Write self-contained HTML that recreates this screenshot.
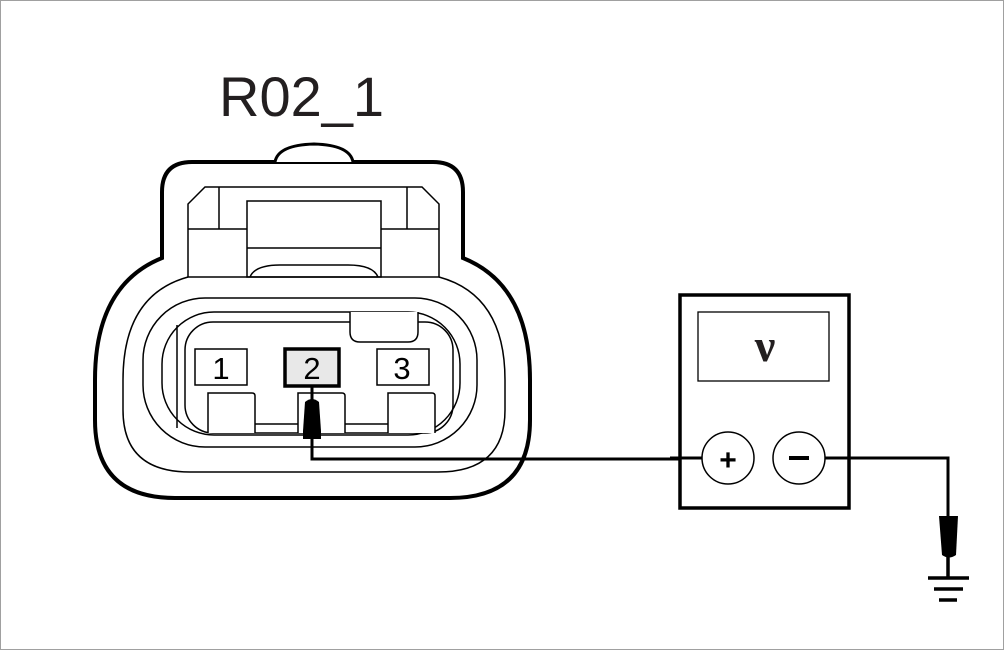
<!DOCTYPE html>
<html><head><meta charset="utf-8"><style>
html,body{margin:0;padding:0;background:#fff}
svg{display:block}
</style></head><body>
<svg width="1004" height="650" viewBox="0 0 1004 650" xmlns="http://www.w3.org/2000/svg">
<rect x="0.5" y="0.5" width="1003" height="649" fill="#fff" stroke="#a0a0a0"/>
<text x="219" y="116" font-family="Liberation Sans, sans-serif" font-size="56" fill="#231f20">R02_1</text>
<g fill="none" stroke="#000">
<path d="M192 162 H433 Q463 162 463 192 V258 Q530 285 530 380 V420 Q530 498 450 498 H175 Q95 498 95 420 V380 Q95 285 162 258 V192 Q162 162 192 162 Z" stroke-width="4" fill="#fff"/>
<path d="M275 162 Q278 145 314 144 Q350 145 353 162" fill="#fff" stroke-width="3"/>
<path d="M188 277 Q123 295 123 380 V410 Q123 472 190 472 H438 Q505 472 505 410 V380 Q505 295 439 277" stroke-width="1.5"/>
<path d="M188 277 V204 L205 187 H422 L439 204 V277 Z" stroke-width="1.5"/>
<path d="M219 187 V229 M407 187 V229 M188 229 H247 M381 229 H439" stroke-width="1.5"/>
<rect x="247" y="201" width="134" height="76" stroke-width="1.5"/>
<path d="M247 248 H381 M250 277 Q255 265 280 265 H348 Q373 265 378 277" stroke-width="1.5"/>
<rect x="143" y="298" width="334" height="149" rx="62" stroke-width="1.5"/>
<rect x="162" y="312" width="298" height="123" rx="52" stroke-width="1.5"/>
<rect x="185" y="322" width="268" height="111" rx="28" stroke-width="1.5"/>
<path d="M177 325 V428" stroke-width="1.5"/>
<path d="M350 312 V332 Q350 342 360 342 H408 Q418 342 418 332 V312" fill="#fff" stroke-width="1.5"/>
<path d="M255 424 H298 M345 424 H388" stroke-width="1.5"/>
<path d="M208 433 V393 H252 Q255 393 255 396 V433" fill="#fff" stroke-width="1.5"/>
<path d="M298 433 V393 H342 Q345 393 345 396 V433" fill="#fff" stroke-width="1.5"/>
<path d="M388 433 V393 H432 Q435 393 435 396 V433" fill="#fff" stroke-width="1.5"/>
</g>
<g font-family="Liberation Sans, sans-serif" font-size="31" text-anchor="middle">
<rect x="195" y="349" width="52" height="36" fill="#fff" stroke="#000" stroke-width="1.5"/>
<text x="221" y="379">1</text>
<rect x="285" y="349" width="54" height="37" fill="#e8e8e8" stroke="#000" stroke-width="3.5"/>
<text x="312" y="379">2</text>
<rect x="377" y="349" width="52" height="36" fill="#fff" stroke="#000" stroke-width="1.5"/>
<text x="402" y="379">3</text>
</g>
<path d="M312 386 V459 H700" fill="none" stroke="#000" stroke-width="3"/>
<path d="M305 402 Q312 396 319 402 L321 431 V439 H303 V431 Z" fill="#000"/>
<g>
<rect x="680" y="295" width="169" height="213" fill="#fff" stroke="#000" stroke-width="3.5"/>
<rect x="698" y="312" width="131" height="69" fill="#fff" stroke="#000" stroke-width="1.3"/>
<text x="765" y="361" font-family="Liberation Serif, serif" font-weight="bold" font-size="46" text-anchor="middle" fill="#231f20">ν</text>
<path d="M670 458 H702 M825 458 H948 V520" fill="none" stroke="#000" stroke-width="3"/>
<circle cx="728" cy="458" r="26" fill="#fff" stroke="#000" stroke-width="1.5"/>
<text x="728" y="470" font-family="Liberation Sans, sans-serif" font-weight="bold" font-size="30" text-anchor="middle">+</text>
<circle cx="799" cy="458" r="26" fill="#fff" stroke="#000" stroke-width="1.5"/>
<rect x="789" y="456" width="20" height="4" fill="#000"/>
</g>
<path d="M939 516 H958 L956 555 Q949 560 942 555 Z" fill="#000"/>
<g stroke="#000" stroke-width="3.5">
<path d="M948 556 V578"/>
<path d="M928 578 H969 M934 589 H963 M939 600 H957"/>
</g>
</svg>
</body></html>
